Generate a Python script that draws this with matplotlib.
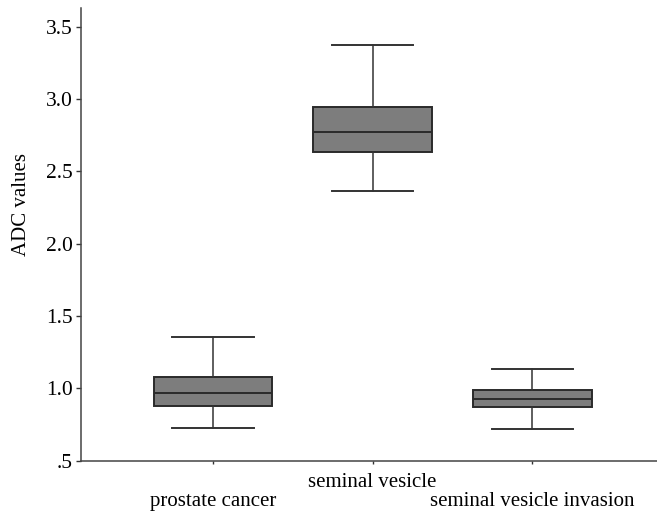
import matplotlib.pyplot as plt

plt.rcParams['font.family'] = ['Liberation Serif', 'DejaVu Serif']

# Box statistics
groups = ['prostate cancer', 'seminal vesicle', 'seminal vesicle invasion']
whis_low = [0.727, 2.366, 0.720]
q1 = [0.875, 2.636, 0.871]
median = [0.970, 2.774, 0.928]
q3 = [1.080, 2.943, 0.988]
whis_high = [1.357, 3.376, 1.136]

yticks = [0.5, 1.0, 1.5, 2.0, 2.5, 3.0, 3.5]
ytick_labels = ['.5', '1.0', '1.5', '2.0', '2.5', '3.0', '3.5']

stats = []
for i in range(len(groups)):
    stats.append({'whislo': whis_low[i], 'q1': q1[i], 'med': median[i],
                  'q3': q3[i], 'whishi': whis_high[i], 'fliers': []})

fig = plt.figure(figsize=(6.57, 5.13), dpi=100)
ax = fig.add_axes([0.1233, 0.1019, 0.8767, 0.8825])

ax.bxp(stats, positions=[1, 2, 3], widths=0.742, capwidths=0.51,
       patch_artist=True, showfliers=False,
       boxprops=dict(facecolor='#7d7d7d', edgecolor='#2a2a2a', linewidth=1.4),
       medianprops=dict(color='#2a2a2a', linewidth=1.4),
       whiskerprops=dict(color='#333333', linewidth=1.1),
       capprops=dict(color='#333333', linewidth=1.4))

ax.set_xlim(0.175, 3.78)
ax.set_ylim(0.5, 3.63)
ax.set_yticks(yticks)
ax.set_yticklabels(ytick_labels, fontsize=15.5)
ax.set_xticks([1, 2, 3])
ax.set_xticklabels(['\n' + groups[0], groups[1], '\n' + groups[2]], fontsize=15)
for lbl in ax.get_xticklabels():
    lbl.set_linespacing(1.0)
ax.tick_params(axis='x', length=2.5, width=1, pad=6, colors='#333333', labelcolor='black')
ax.tick_params(axis='y', length=3.5, width=1, pad=2.5, colors='#333333', labelcolor='black')
ax.set_ylabel('ADC values', fontsize=15)
ax.yaxis.set_label_coords(-0.087, 0.565)

for side in ['top', 'right']:
    ax.spines[side].set_visible(False)
for side in ['left', 'bottom']:
    ax.spines[side].set_color('#444444')
    ax.spines[side].set_linewidth(1.1)

plt.savefig('out.png', dpi=100)
